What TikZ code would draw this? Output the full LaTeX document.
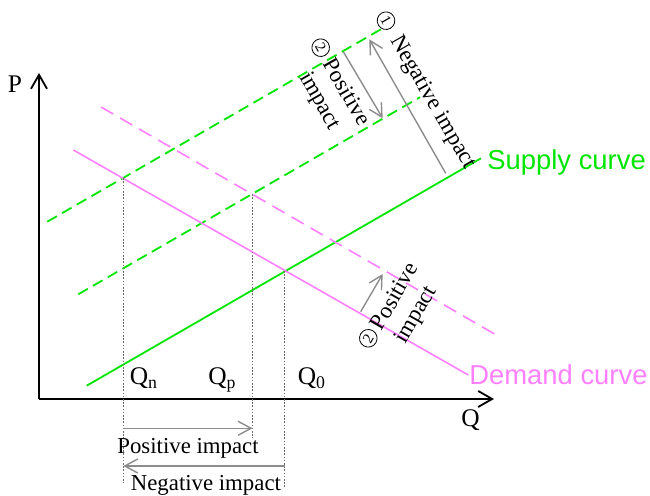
\documentclass[tikz,border=0pt]{standalone}
\usepackage{fontspec}
\setmainfont{Liberation Serif}
\setsansfont{Liberation Sans}
\usetikzlibrary{arrows.meta}

\definecolor{supplygreen}{RGB}{0,230,0}
\definecolor{demandpink}{RGB}{255,128,255}
\definecolor{shiftgray}{RGB}{140,140,140}
\definecolor{guidegray}{RGB}{110,110,110}

\begin{document}
\begin{tikzpicture}[
    x=0.5pt, y=0.5pt,
    font=\fontsize{11.4}{13.5}\selectfont,
    axis/.style      ={-{Straight Barb[length=7pt,width=8pt]}, line width=0.9pt},
    supply/.style    ={supplygreen, line width=0.9pt},
    demand/.style    ={demandpink, line width=0.8pt},
    moved/.style     ={dash pattern=on 5.5pt off 3pt},
    movedpink/.style ={dash pattern=on 7pt off 4pt},
    impact/.style    ={-{Straight Barb[length=6.5pt,width=7pt]}, shiftgray, line width=0.7pt},
    guide/.style     ={guidegray, line width=0.5pt, dash pattern=on 0.8pt off 0.8pt},
    curvelbl/.style  ={anchor=base west, inner sep=0, font=\sffamily\fontsize{13.7}{15}\selectfont},
    qlbl/.style      ={anchor=base west, inner sep=0},
    biglbl/.style    ={qlbl, font=\fontsize{12.7}{14}\selectfont},
    circ/.style      ={circle, draw, line width=0.4pt, minimum size=8.8pt, inner sep=0,
                       font=\fontsize{7.5}{7.5}\selectfont},
    rotlbl/.style    ={inner sep=0, align=left}
]
\useasboundingbox (0,0) rectangle (650,496);

% Axes
\coordinate (O)    at (39,97);
\coordinate (Ptop) at (39,423);
\coordinate (Qend) at (494,97);
\draw[axis] (O) -- (Ptop);
\draw[axis] (O) -- (Qend);
\node[biglbl] (P) at (7.5,403.7) {P};
\node[biglbl] (Q) at (461,69.3) {Q};

% Supply curves
\coordinate (s0a) at (86.7,110.3);
\coordinate (s0b) at (481,337.7);
\coordinate (s1a) at (47.3,274.3);
\coordinate (s1b) at (384,468.5);
\coordinate (s2a) at (78.3,201.7);
\coordinate (s2b) at (420,398.8);
\draw[supply] (s0a) -- (s0b);
\draw[supply, moved] (s1a) -- (s1b);
\draw[supply, moved] (s2a) -- (s2b);
\node[curvelbl, text=supplygreen] (slbl) at (487,326.7) {Supply curve};

% Demand curves
\coordinate (d0a) at (73.3,346);
\coordinate (d0b) at (468.3,121);
\coordinate (d1a) at (101,389);
\coordinate (d1b) at (495,161.7);
\draw[demand] (d0a) -- (d0b);
\draw[demand, movedpink] (d1a) -- (d1b);
\node[curvelbl, text=demandpink] (dlbl) at (469,111.7) {Demand curve};

% Equilibria and guides
\coordinate (En) at (123.3,317.7);
\coordinate (Ep) at (252.5,301.7);
\coordinate (E0) at (285,225);
\coordinate (Gn) at (123.3,12.7);
\coordinate (Gp) at (252.5,58);
\coordinate (G0) at (285,9.3);
\draw[guide] (En) -- (Gn);
\draw[guide] (Ep) -- (Gp);
\draw[guide] (E0) -- (G0);
\node[biglbl] (qn) at (129.5,111) {Q\textsubscript{n}};
\node[biglbl] (qp) at (208,111) {Q\textsubscript{p}};
\node[biglbl] (q0) at (297.5,111) {Q\textsubscript{0}};

% Quantity shifts
\coordinate (pa) at (123.3,67.7);
\coordinate (pb) at (252.5,67.7);
\coordinate (na) at (285,30);
\coordinate (nb) at (123.3,30);
\draw[impact] (pa) -- (pb);
\draw[impact] (na) -- (nb);
\node[qlbl] (ptxt) at (117,42) {Positive impact};
\node[qlbl] (ntxt) at (130.5,5.3) {Negative impact};

% Supply shifts
\coordinate (sna) at (445.7,322.7);
\coordinate (snb) at (369.3,456.7);
\coordinate (spa) at (343.3,444.3);
\coordinate (spb) at (382.7,377.7);
\draw[impact] (sna) -- (snb);
\draw[impact] (spa) -- (spb);
\node[circ, rotate=-60] (one) at (386,475.3) {1};
\node[rotlbl, rotate=-60] (sntxt) at (432.5,393.5) {Negative impact};
\node[circ, rotate=-60] (twoa) at (320.7,448.3) {2};
\node[rotlbl, rotate=-60] (sptxt) at (333.5,396.4) {Positive\\impact};

% Demand shift
\coordinate (dpa) at (360.7,184.3);
\coordinate (dpb) at (382.7,222);
\draw[impact] (dpa) -- (dpb);
\node[circ, rotate=60] (twob) at (368.3,157.7) {2};
\node[rotlbl, rotate=60] (dptxt) at (407.6,192.4) {Positive\\impact};

\end{tikzpicture}
\end{document}
